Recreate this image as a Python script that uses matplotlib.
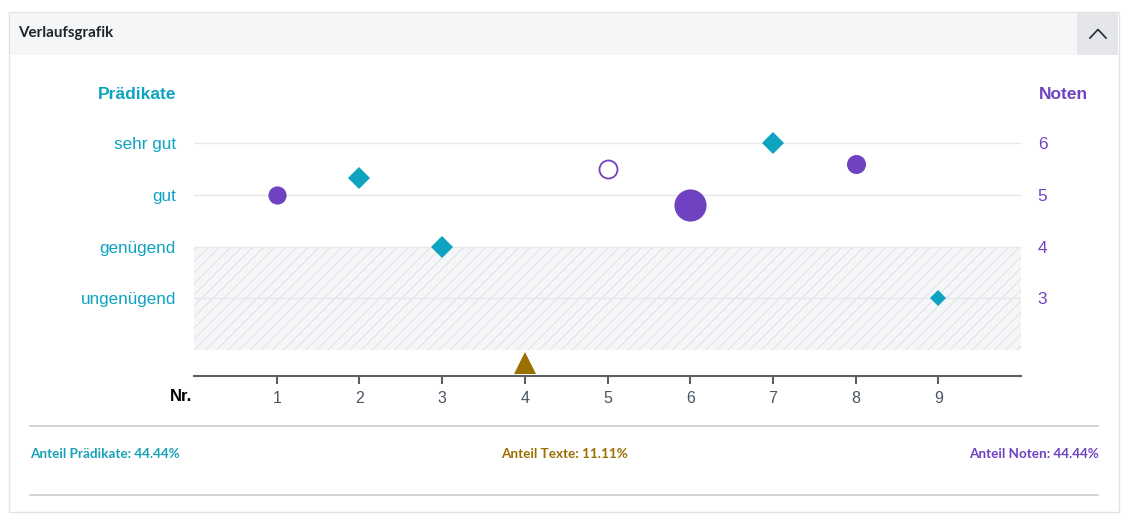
import numpy as np
import matplotlib
matplotlib.use('agg')
import matplotlib.pyplot as plt
from matplotlib.patches import Rectangle
from matplotlib.lines import Line2D

##### Data
nr = [1, 2, 3, 4, 5, 6, 7, 8, 9]
art = ['note', 'praedikat', 'praedikat', 'text', 'note', 'note', 'praedikat', 'note', 'praedikat']
wert = [5.0, 5.33, 4.0, 1.76, 5.5, 4.8, 6.0, 5.6, 3.0]
gewicht = [1.0, 1.0, 1.0, 1.0, 1.1, 1.85, 1.0, 1.05, 0.72]
gewertet = [True, True, True, True, False, True, True, True, True]
praedikat_labels = ['ungenügend', 'genügend', 'gut', 'sehr gut']
noten_labels = ['3', '4', '5', '6']
label_pos = [3, 4, 5, 6]
anteil_praedikate = 44.44
anteil_texte = 11.11
anteil_noten = 44.44

##### Styles
c_cyan = '#0fa3c2'
c_purple = '#6f42c1'
c_gold = '#9b7000'
c_grid = '#e6e7ea'
W, H = 1126, 521
def fx(px): return px / W
def fy(py): return 1 - py / H

plt.rcParams['font.family'] = ['Liberation Sans', 'DejaVu Sans']
plt.rcParams['hatch.color'] = '#e0e1e4'
plt.rcParams['hatch.linewidth'] = 0.7

fig = plt.figure(figsize=(11.26, 5.21), dpi=100)

# card frame + header
fig.add_artist(Rectangle((fx(9), fy(512)), fx(1119) - fx(9), fy(12) - fy(512),
                         transform=fig.transFigure, facecolor='white', edgecolor='#e2e3e5', lw=1, zorder=0))
fig.add_artist(Rectangle((fx(10), fy(55)), fx(1077) - fx(10), fy(13) - fy(55),
                         transform=fig.transFigure, facecolor='#f5f6f8', edgecolor='none', zorder=1))
fig.add_artist(Rectangle((fx(1077), fy(55)), fx(1118) - fx(1077), fy(13) - fy(55),
                         transform=fig.transFigure, facecolor='#e4e6e9', edgecolor='none', zorder=1))
fig.add_artist(Line2D([fx(1090), fx(1098), fx(1106)], [fy(38), fy(29.5), fy(38)],
                      transform=fig.transFigure, color='#1d2b3a', lw=1.2, zorder=2))
ff = ['Lato', 'DejaVu Sans']
fig.text(fx(18), fy(33), 'Verlaufsgrafik', family=ff, fontsize=10.9,
         fontweight='bold', color='#212529', va='center', ha='left')

##### Plot
ax = fig.add_axes([fx(194), fy(376), fx(1021) - fx(194), fy(91.6) - fy(376)])
ax.set_xlim(0, 10)
ax.set_ylim(1.5, 7)
for s in ['top', 'right', 'left']:
    ax.spines[s].set_visible(False)
ax.spines['bottom'].set_color('#5a5f66')
ax.spines['bottom'].set_linewidth(1.5)

ax.axhspan(2, 4, facecolor='#f5f6f8', edgecolor='#e0e1e4', hatch='///', lw=0, zorder=0)
for yv in label_pos:
    ax.axhline(yv, color=c_grid, lw=1, zorder=1)

ax.set_xticks(nr)
ax.set_xticklabels([str(n) for n in nr], fontsize=11.5, color='#4a5561')
ax.tick_params(axis='x', length=6, width=1.5, color='#5a5f66', pad=4.5)
ax.set_yticks(label_pos)
ax.set_yticklabels(praedikat_labels, fontsize=12.3, color=c_cyan)
ax.tick_params(axis='y', length=0, pad=13)

ax2 = ax.twinx()
ax2.set_ylim(ax.get_ylim())
for s in ax2.spines.values():
    s.set_visible(False)
ax2.set_yticks(label_pos)
ax2.set_yticklabels(noten_labels, fontsize=12.3, color=c_purple)
ax2.tick_params(axis='y', length=0, pad=12)

ax.text(-0.0218, 6.95, 'Prädikate', transform=ax.get_yaxis_transform(), ha='right', va='center',
        fontsize=12.5, fontweight='bold', color=c_cyan)
ax.text(1.0218, 6.95, 'Noten', transform=ax.get_yaxis_transform(), ha='left', va='center',
        fontsize=12.5, fontweight='bold', color=c_purple)
ax.annotate('Nr.', xy=(0, 1.5), xytext=(-1, -14.5), textcoords='offset points', ha='right', va='center',
            fontsize=12, fontweight='bold', color='black', annotation_clip=False)

for x, a, y, g, gw in zip(nr, art, wert, gewicht, gewertet):
    if a == 'note':
        ax.plot(x, y, 'o', ms=11.8 * g, color=c_purple, mfc=c_purple if gw else 'white',
                mew=1.3, zorder=5, clip_on=False)
    elif a == 'praedikat':
        ax.plot(x, y, 'D', ms=11.3 * g, color=c_cyan, mew=0, zorder=5, clip_on=False)
    else:
        ax.plot(x, y, '^', ms=16.5 * g, color=c_gold, mew=0, zorder=5, clip_on=False)

##### Footer
for py in [426, 495]:
    fig.add_artist(Line2D([fx(30), fx(1098)], [fy(py), fy(py)], transform=fig.transFigure,
                          color='#cdcdcd', lw=1.2))
fig.text(fx(30), fy(453.5), 'Anteil Prädikate: %.2f%%' % anteil_praedikate, family=ff, fontsize=9.7,
         fontweight='bold', color='#17a2b8', ha='left', va='center')
fig.text(fx(564), fy(453.5), 'Anteil Texte: %.2f%%' % anteil_texte, family=ff, fontsize=9.7,
         fontweight='bold', color=c_gold, ha='center', va='center')
fig.text(fx(1099), fy(453.5), 'Anteil Noten: %.2f%%' % anteil_noten, family=ff, fontsize=9.7,
         fontweight='bold', color=c_purple, ha='right', va='center')

plt.savefig('out.png', dpi=100)
